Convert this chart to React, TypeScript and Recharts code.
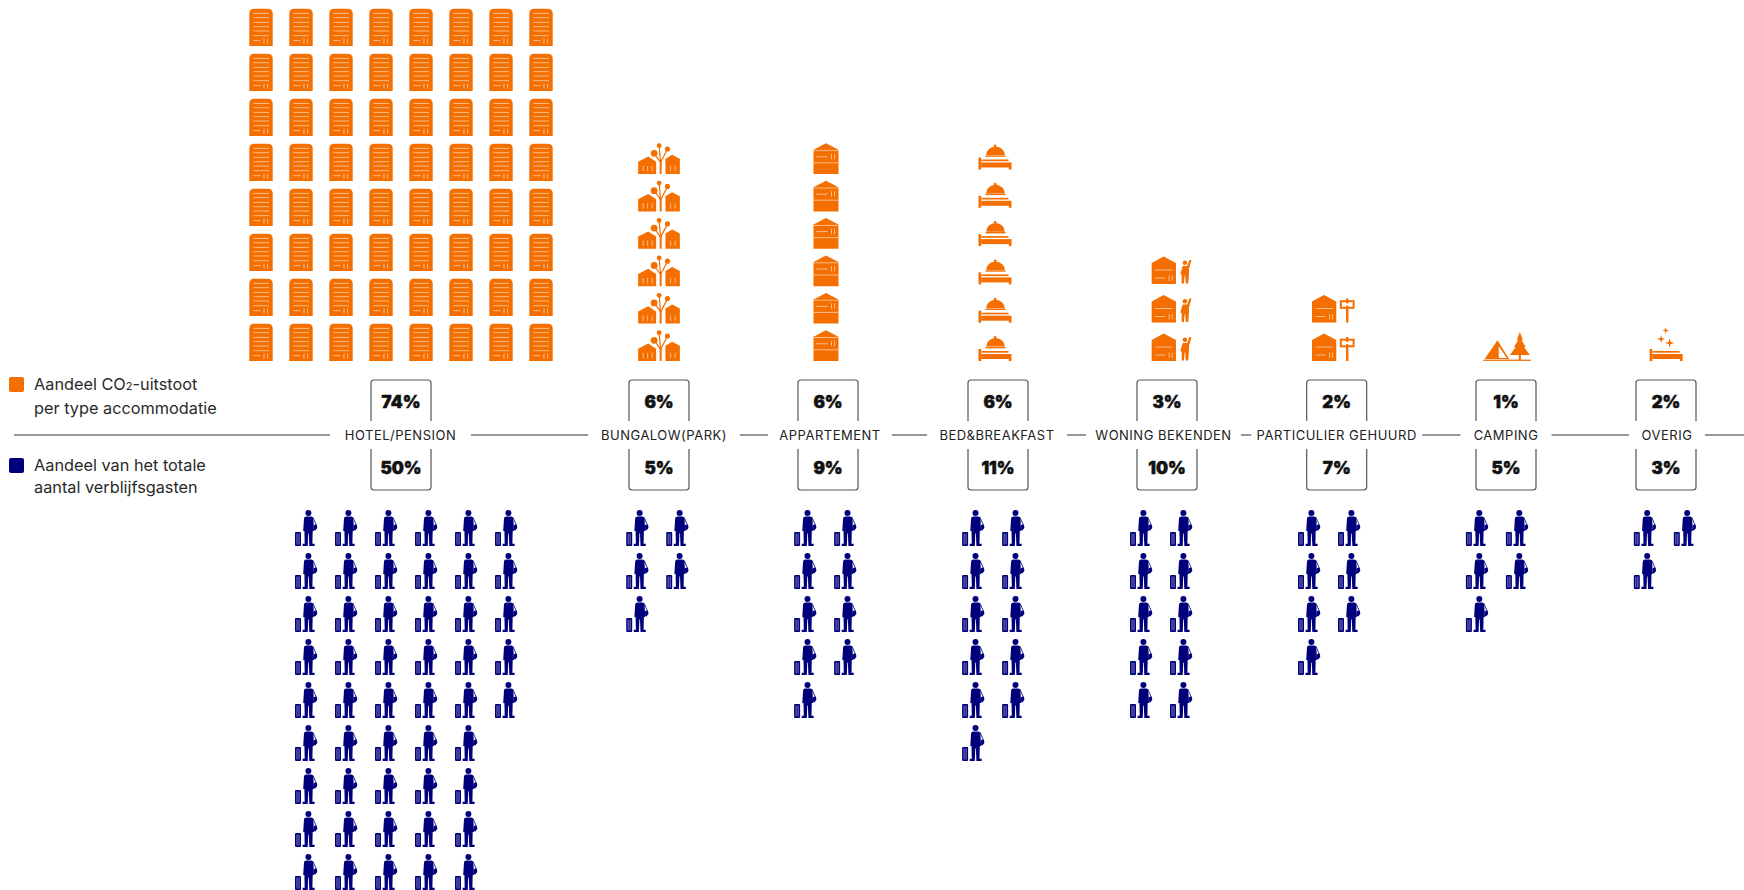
import { ScatterChart, Scatter, XAxis, YAxis, ReferenceLine, Legend } from 'recharts'

const W = 1744
const H = 890
const ORANGE = '#f46e00'
const NAVY = '#00007c'
const FONT = 'Inter, "Open Sans", sans-serif'

// data
const categories = ['HOTEL/PENSION', 'BUNGALOW(PARK)', 'APPARTEMENT', 'BED&BREAKFAST', 'WONING BEKENDEN', 'PARTICULIER GEHUURD', 'CAMPING', 'OVERIG']
const co2Share = ['74%', '6%', '6%', '6%', '3%', '2%', '1%', '2%']
const guestShare = ['50%', '5%', '9%', '11%', '10%', '7%', '5%', '3%']
// icons per row, nearest row to the axis first
const co2Rows = [
  [8, 8, 8, 8, 8, 8, 8, 8],
  [1, 1, 1, 1, 1, 1],
  [1, 1, 1, 1, 1, 1],
  [1, 1, 1, 1, 1, 1],
  [1, 1, 1],
  [1, 1],
  [1],
  [1],
]
const guestRows = [
  [6, 6, 6, 6, 6, 5, 5, 5, 5],
  [2, 2, 1],
  [2, 2, 2, 2, 1],
  [2, 2, 2, 2, 2, 1],
  [2, 2, 2, 2, 2],
  [2, 2, 2, 1],
  [2, 2, 1],
  [2, 1],
]

// layout, in chart units (1 unit = 1px)
const boxAt = [401, 659, 828, 998, 1167, 1336.7, 1506, 1666]
const labelShift = [-0.5, 5, 2, -1, -3.5, 0, 0, 1]
const gapWidth = [141, 152, 124, 140, 155, 171, 91, 76]
const co2At = [401, 659, 826, 995, 1172, 1333.3, 1507, 1666]
const guestAt = [406, 657.2, 825.1, 993.1, 1161, 1329, 1496.9, 1664.8]
const co2Kind = ['hotel', 'bungalow', 'flat', 'bedbell', 'friend', 'rent', 'camp', 'other']
const co2Pitch = [45, 37.4, 37.4, 38.3, 38.5, 38.5, 45, 45]
const COL = 40
const GUEST_PITCH = 43
const CO2_BASE = 74
const GUEST_BASE = -75

const centerOf = boxAt.map((x, i) => ({
  x,
  y: 0,
  name: categories[i],
  co2: co2Share[i],
  guests: guestShare[i],
  shift: labelShift[i],
  gap: gapWidth[i],
}))

const co2Points = co2Rows.flatMap((rows, c) =>
  rows.flatMap((n, r) =>
    Array.from({ length: n }, (_, k) => ({
      x: co2At[c] + (k - (n - 1) / 2) * COL,
      y: CO2_BASE + r * co2Pitch[c],
      kind: co2Kind[c],
    })),
  ),
)

const guestPoints = guestRows.flatMap((rows, c) =>
  rows.flatMap((n, r) =>
    Array.from({ length: n }, (_, k) => ({
      x: guestAt[c] + (k - (rows[0] - 1) / 2) * COL,
      y: GUEST_BASE - r * GUEST_PITCH,
    })),
  ),
)

const stripe = { stroke: '#fff', strokeOpacity: 0.55, strokeWidth: 1 }

function Lines({ d }: { d: string }) {
  return <path d={d} fill="none" {...stripe} />
}

function Bed() {
  return (
    <g fill={ORANGE}>
      <rect x={0} y={0} width={2.7} height={12} />
      <rect x={30.3} y={5} width={2.7} height={7} />
      <rect x={3} y={2} width={27} height={1.7} />
      <rect x={2.7} y={5} width={28} height={5} />
    </g>
  )
}

function Star({ x, y, r }: { x: number; y: number; r: number }) {
  const s = r * 0.22
  return (
    <path
      d={`M${x} ${y - r}L${x + s} ${y - s}L${x + r} ${y}L${x + s} ${y + s}L${x} ${y + r}L${x - s} ${y + s}L${x - r} ${y}L${x - s} ${y - s}Z`}
      fill={ORANGE}
    />
  )
}

function SmallHouse() {
  return (
    <g>
      <path d="M0 6.5L12 0L24.3 6.5V27.5H0Z" fill={ORANGE} />
      <Lines d="M3.5 13.5H21M3.5 21.5H13.5M17.5 19V24.5M20.5 19V24.5" />
    </g>
  )
}

const iconSize: Record<string, [number, number]> = {
  hotel: [23.4, 37.3],
  bungalow: [41.7, 30.7],
  flat: [25, 30.7],
  bedbell: [33, 25],
  friend: [40.7, 27.5],
  rent: [42.6, 27.5],
  camp: [47.7, 29],
  other: [32.7, 34],
}

function Co2Icon(props: any) {
  const kind = props.payload.kind as string
  const [w, h] = iconSize[kind]
  let body = null
  if (kind === 'hotel') {
    body = (
      <g>
        <path d="M0 37.3V5Q0 0 5 0H18.4Q23.4 0 23.4 5V37.3Z" fill={ORANGE} />
        <Lines d="M4 4.7H19.7M4 9H19.7M4 13.7H19.7M4 18H19.7M4 22.3H19.7M4 27H19.7M4 32H11.3M14.7 30V35M18.3 30V35" />
      </g>
    )
  } else if (kind === 'bungalow') {
    body = (
      <g>
        <path d="M0 18.5L10 13.3L18 18.5V30.7H0Z" fill={ORANGE} />
        <path d="M27.3 15.5L34 11.5L41.7 15.5V30.7H27.3Z" fill={ORANGE} />
        <rect x={21.5} y={17} width={2} height={13.7} fill={ORANGE} />
        <path d="M22.5 20L21 3M22.5 19L29.3 6M22.5 19L16 10" stroke={ORANGE} strokeWidth={1.2} fill="none" />
        <circle cx={21} cy={2.4} r={2.4} fill={ORANGE} />
        <circle cx={29.3} cy={5.7} r={2.6} fill={ORANGE} />
        <circle cx={16} cy={10} r={3.4} fill={ORANGE} />
        <Lines d="M5 22.5V28M9.5 22.5V28M14 22.5V28M32.5 22.5V28M37 22.5V28" />
      </g>
    )
  } else if (kind === 'flat') {
    body = (
      <g>
        <path d="M0 6.5L12.5 0L25 6.5V30.7H0Z" fill={ORANGE} />
        <Lines d="M0 7.3H25M0 19.5H25M3 13.5H14M18 10.5V16M21 10.5V16" />
      </g>
    )
  } else if (kind === 'bedbell') {
    body = (
      <g>
        <circle cx={16.7} cy={1.4} r={1.4} fill={ORANGE} />
        <path d="M7.7 10.6A9.3 8.6 0 0 1 26.3 10.6Z" fill={ORANGE} />
        <rect x={7} y={10.9} width={20} height={1.4} fill={ORANGE} />
        <g transform="translate(0 13)">
          <Bed />
        </g>
      </g>
    )
  } else if (kind === 'friend') {
    body = (
      <g>
        <SmallHouse />
        <circle cx={33.3} cy={6.3} r={2.3} fill={ORANGE} />
        <path
          d="M31 9.5H35.5L37.8 3.5H39.8L37.3 12.5V17L36.6 27H34.2L33.5 19H33L32.3 27H30V18L28.7 17.5Z"
          fill={ORANGE}
        />
      </g>
    )
  } else if (kind === 'rent') {
    body = (
      <g>
        <SmallHouse />
        <rect x={28.8} y={6.2} width={12.8} height={6.6} fill="#fff" stroke={ORANGE} strokeWidth={2} />
        <rect x={34} y={3.5} width={2.4} height={24} fill={ORANGE} />
        <rect x={30.5} y={8.4} width={9.4} height={2.2} fill="#fff" />
      </g>
    )
  } else if (kind === 'camp') {
    body = (
      <g>
        <path d="M1.5 27L14.3 8.3L26 27Z" fill={ORANGE} />
        <path d="M15.6 14V26H23.5Z" fill="#fff" />
        <path d="M36.7 0L39.8 8H38.3L42.6 15H40.8L46.7 23H26.7L32.6 15H30.8L35.1 8H33.6Z" fill={ORANGE} />
        <rect x={35.7} y={22} width={2} height={6} fill={ORANGE} />
        <rect x={0} y={27.6} width={47.7} height={1.3} fill={ORANGE} />
      </g>
    )
  } else {
    body = (
      <g>
        <Star x={16} y={3.5} r={3.5} />
        <Star x={11.5} y={12} r={4} />
        <Star x={20} y={16} r={4.7} />
        <g transform="translate(0 22)">
          <Bed />
        </g>
      </g>
    )
  }
  return <g transform={`translate(${props.cx - w / 2} ${props.cy - h})`}>{body}</g>
}

function GuestIcon(props: any) {
  return (
    <g transform={`translate(${props.cx - 11} ${props.cy})`} fill={NAVY}>
      <circle cx={13.4} cy={3} r={3} />
      <path d="M9 8.2Q9.3 6.6 11 6.6H16.3Q18 6.6 18.3 8.2L19 21H17.7L17.4 33.8H19.6V36H14.3L13.8 23.5H13.2L12.7 36H7.6V33.8H9.7L9.4 21H8.2Z" />
      <path d="M18 7.4L21.8 16.5" stroke={NAVY} strokeWidth={0.8} fill="none" />
      <path d="M18.8 15L21.6 14.6L22.3 18L20.2 20.4L18.9 20Z" />
      <rect x={0} y={22} width={6} height={14} rx={1} />
      <path d="M2 23.5V34.5M4 23.5V34.5" stroke="#fff" strokeOpacity={0.7} strokeWidth={0.7} />
    </g>
  )
}

function CategoryMark(props: any) {
  const { cx, cy, payload } = props
  const half = 30
  const pct = { textAnchor: 'middle', dominantBaseline: 'central', fontSize: 17, fontWeight: 900, fill: '#111', stroke: '#111', strokeWidth: 0.5 } as any
  return (
    <g fontFamily={FONT}>
      <rect x={cx + payload.shift - payload.gap / 2} y={cy - 3} width={payload.gap} height={6} fill="#fff" />
      <text
        x={cx + payload.shift}
        y={cy}
        textAnchor="middle"
        dominantBaseline="central"
        fontSize={13}
        letterSpacing={0.5}
        fill="#222"
      >
        {payload.name}
      </text>
      <path
        d={`M${cx - half} ${cy - 14}V${cy - 52}Q${cx - half} ${cy - 55} ${cx - half + 3} ${cy - 55}H${cx + half - 3}Q${cx + half} ${cy - 55} ${cx + half} ${cy - 52}V${cy - 14}`}
        fill="none"
        stroke="#555"
        strokeWidth={1.2}
      />
      <path
        d={`M${cx - half} ${cy + 14}V${cy + 52}Q${cx - half} ${cy + 55} ${cx - half + 3} ${cy + 55}H${cx + half - 3}Q${cx + half} ${cy + 55} ${cx + half} ${cy + 52}V${cy + 14}`}
        fill="none"
        stroke="#555"
        strokeWidth={1.2}
      />
      <text x={cx} y={cy - 33} {...pct}>
        {payload.co2}
      </text>
      <text x={cx} y={cy + 33} {...pct}>
        {payload.guests}
      </text>
    </g>
  )
}

function LegendBlock() {
  const row = (color: string, top: number, lines: any[]) => (
    <div style={{ position: 'absolute', left: 9, top, width: 240 }}>
      <div style={{ position: 'absolute', left: 0, top: 4, width: 14.5, height: 14.5, borderRadius: 2, background: color }} />
      <div style={{ position: 'absolute', left: 25, top: 0, whiteSpace: 'nowrap', fontFamily: FONT, fontSize: 16.3, lineHeight: '22px', color: '#2a2a2a' }}>
        {lines.map((l, i) => (
          <div key={i}>{l}</div>
        ))}
      </div>
    </div>
  )
  return (
    <div>
      {row(ORANGE, 0, [
        <span key="a">
          Aandeel CO<span style={{ fontSize: 11 }}>2</span>-uitstoot
        </span>,
        'per type accommodatie',
      ])}
      {row(NAVY, 81, ['Aandeel van het totale', 'aantal verblijfsgasten'])}
    </div>
  )
}

export default function App() {
  return (
    <div style={{ position: 'absolute', left: 0, top: 0, width: W, height: H, background: '#fff', overflow: 'hidden' }}>
      <ScatterChart width={W} height={H} margin={{ top: 0, right: 0, bottom: 0, left: 0 }}>
        <XAxis type="number" dataKey="x" domain={[0, W]} hide />
        <YAxis type="number" dataKey="y" domain={[-455, 435]} hide />
        <ReferenceLine segment={[{ x: 14, y: 0 }, { x: W, y: 0 }]} stroke="#333" strokeWidth={1.2} />
        <Legend
          layout="vertical"
          align="center"
          verticalAlign="middle"
          wrapperStyle={{ position: 'absolute', left: 0, top: 373, width: 250, height: 130 }}
          content={() => <LegendBlock />}
        />
        <Scatter name="Aandeel CO2-uitstoot" data={co2Points} fill={ORANGE} shape={(p: any) => <Co2Icon {...p} />} isAnimationActive={false} />
        <Scatter name="Aandeel verblijfsgasten" data={guestPoints} fill={NAVY} shape={(p: any) => <GuestIcon {...p} />} isAnimationActive={false} />
        <Scatter name="Type accommodatie" data={centerOf} fill="#333" legendType="none" shape={(p: any) => <CategoryMark {...p} />} isAnimationActive={false} />
      </ScatterChart>
    </div>
  )
}
